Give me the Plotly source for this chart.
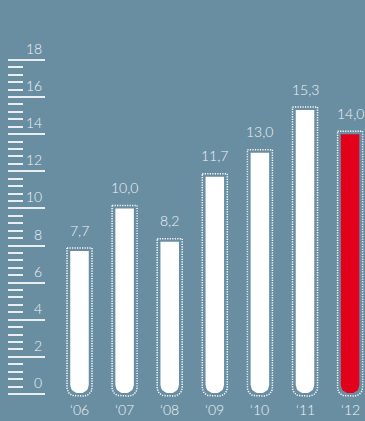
import numpy as np
import plotly.graph_objects as go

years = ["‘06", "‘07", "‘08", "‘09", "‘10", "‘11", "‘12"]
values = [7.7, 10.0, 8.2, 11.7, 13.0, 15.3, 14.0]
bar_colors = ["#ffffff"] * 6 + ["#e2001a"]
major_ticks = [0, 2, 4, 6, 8, 10, 12, 14, 16, 18]

BG = "#698ea2"
TXT = "#eef3f6"
TICK = "rgba(255,255,255,0.85)"
FONT = "Lato"

idx = list(range(len(years)))

# geometry (plot-unit conversions)
W, H = 365, 421
x0_px, x_step = 79.5, 45.1
y0_px, y_step = 394, 18.56
xr = [-x0_px / x_step, (W - x0_px) / x_step]
yr = [-(H - y0_px) / y_step, y0_px / y_step]


def tube(i, top, bottom, half_w_px, r_px):
    hw = half_w_px / x_step
    rx, ry = r_px / x_step, r_px / y_step
    xs = [i - hw, i + hw, i + hw]
    ys = [top, top, bottom + ry]
    for t in np.linspace(0, np.pi / 2, 10)[1:]:
        xs.append(i + hw - rx + rx * np.cos(t))
        ys.append(bottom + ry - ry * np.sin(t))
    for t in np.linspace(np.pi / 2, np.pi, 10):
        xs.append(i - hw + rx + rx * np.cos(t))
        ys.append(bottom + ry - ry * np.sin(t))
    xs.append(i - hw)
    ys.append(top)
    return xs, ys


fig = go.Figure()

# dotted outlines
ox, oy = [], []
for i, v in zip(idx, values):
    xs, ys = tube(i, v + 3 / y_step, -2 / y_step, 12.5, 8.5)
    ox += xs + [None]
    oy += ys + [None]
fig.add_trace(go.Scatter(
    x=ox, y=oy, mode="lines", cliponaxis=False, hoverinfo="skip",
    line=dict(color="#ffffff", width=1.5, dash="1.2px,1.3px"),
    showlegend=False,
))

# filled tubes, grouped by colour
for col in dict.fromkeys(bar_colors):
    fx, fy = [], []
    for i, v, c in zip(idx, values, bar_colors):
        if c != col:
            continue
        xs, ys = tube(i, v, 1 / y_step, 9.25, 8)
        fx += xs + [None]
        fy += ys + [None]
    fig.add_trace(go.Scatter(
        x=fx, y=fy, mode="lines", fill="toself", fillcolor=col,
        line=dict(width=0, color=col), cliponaxis=False,
        hoverinfo="skip", showlegend=False,
    ))

annotations = []
for i, v in zip(idx, values):
    annotations.append(dict(
        x=i, y=v, xref="x", yref="y", text=f"{v:.1f}".replace(".", ","),
        showarrow=False, yanchor="middle", yshift=21,
        font=dict(family=FONT, size=14, color=TXT, weight=300),
    ))
for i, lab in zip(idx, years):
    annotations.append(dict(
        x=i, y=0, xref="x", yref="paper", text=lab,
        showarrow=False, yanchor="bottom", yshift=1,
        font=dict(family=FONT, size=14, color=TXT, weight=300),
    ))
for t in major_ticks:
    annotations.append(dict(
        x=43.5 / W, y=t, xref="paper", yref="y", text=str(t),
        showarrow=False, xanchor="right", yanchor="bottom", yshift=1,
        font=dict(family=FONT, size=14, color=TXT, weight=300),
    ))

minor_vals = [round(k * 0.4, 1) for k in range(0, 46) if k % 5 != 0]

fig.update_layout(
    width=W, height=H,
    margin=dict(l=0, r=0, t=0, b=0),
    paper_bgcolor=BG, plot_bgcolor=BG,
    showlegend=False,
    annotations=annotations,
    xaxis=dict(range=xr, visible=False, fixedrange=True),
    yaxis=dict(
        range=yr, anchor="free", position=7 / W, side="right",
        showgrid=False, zeroline=False, showline=False, showticklabels=False,
        tickmode="array", tickvals=major_ticks,
        ticks="outside", ticklen=37, tickwidth=1.6, tickcolor=TICK,
        minor=dict(tickmode="array", tickvals=minor_vals, ticks="outside",
                   ticklen=15, tickwidth=1.6, tickcolor=TICK, showgrid=False),
    ),
)

fig.write_html("out.html", config={"displayModeBar": False},
               post_script="document.body.style.margin='0';document.body.style.overflow='hidden';")
